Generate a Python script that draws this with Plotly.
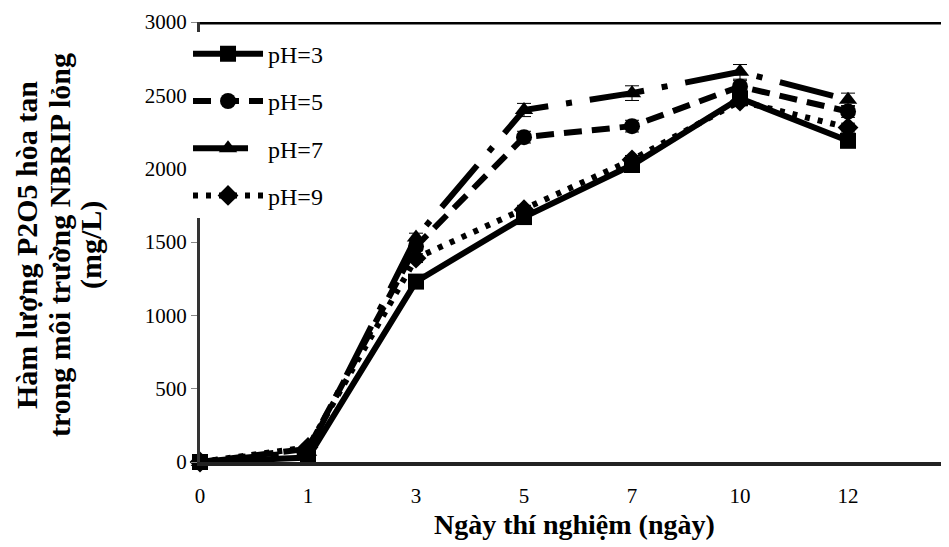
import plotly.graph_objects as go

days = ["0", "1", "3", "5", "7", "10", "12"]
ph3 = [0, 30, 1230, 1670, 2025, 2480, 2190]
ph5 = [0, 90, 1470, 2215, 2290, 2560, 2390]
ph7 = [0, 70, 1530, 2400, 2515, 2660, 2470]
ph9 = [0, 100, 1390, 1720, 2060, 2460, 2280]
err3 = [10, 15, 30, 30, 30, 30, 30]
err5 = [10, 15, 30, 40, 40, 40, 40]
err7 = [10, 15, 30, 45, 50, 50, 45]
err9 = [10, 15, 30, 30, 30, 30, 30]
y_title_lines = ["Hàm lượng P2O5 hòa tan", "trong môi trường NBRIP lỏng", "(mg/L)"]
x_title = "Ngày thí nghiệm (ngày)"

series = [
    ("pH=3", ph3, err3, "solid", "square"),
    ("pH=5", ph5, err5, "18px,10px", "circle"),
    ("pH=7", ph7, err7, "55px,18px,6px,18px", "triangle-up"),
    ("pH=9", ph9, err9, "5px,8px", "diamond"),
]

xi = list(range(len(days)))
fig = go.Figure()
for name, vals, err, dash, sym in series:
    fig.add_trace(go.Scatter(
        x=xi, y=vals, name=name, mode="lines+markers", legendgroup=name,
        line=dict(color="black", width=6, dash=dash),
        marker=dict(symbol=sym, size=16, color="black"),
        error_y=dict(type="data", array=err, color="black", thickness=1, width=7),
        cliponaxis=False,
    ))

fig.add_shape(type="line", xref="paper", yref="y", x0=0, x1=1, y0=3000, y1=3000,
              line=dict(color="black", width=5))

annotations = []
for i, (txt, xpx) in enumerate(zip(y_title_lines, [26, 59, 91])):
    annotations.append(dict(
        text=f"<b>{txt}</b>", xref="paper", yref="paper",
        x=(xpx - 200) / 749, y=0.493, xanchor="center", yanchor="middle",
        textangle=-90, showarrow=False, font=dict(size=30)))
annotations.append(dict(
    text=f"<b>{x_title}</b>", xref="paper", yref="paper", x=0.5, y=-0.143,
    xanchor="center", yanchor="middle", showarrow=False, font=dict(size=28)))

fig.update_layout(
    width=941, height=539,
    margin=dict(l=192, r=0, t=14, b=85),
    plot_bgcolor="white", paper_bgcolor="white",
    font=dict(family="Liberation Serif, Times New Roman, serif", size=21, color="black"),
    showlegend=True,
    legend=dict(x=-0.016, y=0.978, xanchor="left", yanchor="top",
                bgcolor="white", font=dict(size=24), itemwidth=70,
                tracegroupgap=13, traceorder="grouped"),
    xaxis=dict(
        range=[0, 6.935], tickmode="array", tickvals=xi, ticktext=days,
        showgrid=False, zeroline=False, showline=True, linecolor="#222", linewidth=4,
        ticks="", ticklabelstandoff=12, tickfont=dict(size=21),
    ),
    yaxis=dict(
        range=[0, 3000], tickvals=[0, 500, 1000, 1500, 2000, 2500, 3000],
        showgrid=False, zeroline=False, showline=True, linecolor="#333", linewidth=3,
        ticks="outside", ticklen=6, tickcolor="#888", tickwidth=1, tickfont=dict(size=21),
    ),
    annotations=annotations,
)

fig.write_html("out.html")
